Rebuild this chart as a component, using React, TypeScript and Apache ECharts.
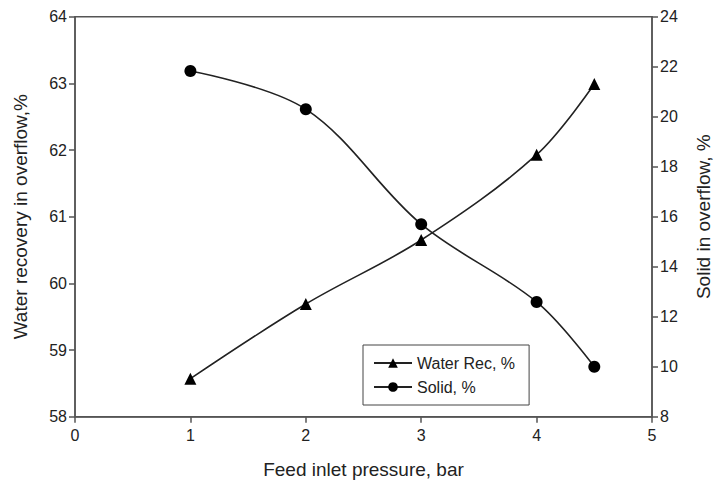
import React, { useEffect, useRef } from "react";
import * as echarts from "echarts";

const pressure = [1, 2, 3, 4, 4.5];
const waterRec = [58.57, 59.69, 60.65, 61.93, 62.99];
const solid = [21.83, 20.3, 15.7, 12.59, 10.0];

const FONT = "Liberation Sans";
const AX = "#555";

export default function App() {
  const ref = useRef<HTMLDivElement>(null);
  useEffect(() => {
    const chart = echarts.init(ref.current!, undefined, { renderer: "svg" });
    const axisCommon = {
      axisLine: { show: true, lineStyle: { color: AX, width: 1.5 } },
      axisTick: { show: true, length: 6, lineStyle: { color: AX, width: 1.5 } },
      splitLine: { show: false },
      axisLabel: { color: "#222", fontFamily: FONT, fontSize: 16 },
      nameTextStyle: { color: "#222", fontFamily: FONT, fontSize: 19 },
    };
    chart.setOption({
      animation: false,
      backgroundColor: "#fff",
      grid: {
        left: 75,
        right: 62,
        top: 16.7,
        bottom: 69.3,
        containLabel: false,
        outerBoundsMode: "none",
        show: true,
        borderColor: AX,
        borderWidth: 1.5,
      },
      legend: {
        left: 363,
        top: 345,
        orient: "vertical",
        width: 167,
        padding: [10, 14, 10, 10],
        itemGap: 8,
        itemWidth: 38,
        itemHeight: 12,
        borderColor: "#444",
        borderWidth: 1,
        textStyle: { color: "#222", fontFamily: FONT, fontSize: 16 },
        data: ["Water Rec, %", "Solid, %"],
      },
      xAxis: {
        type: "value",
        min: 0,
        max: 5,
        interval: 1,
        name: "Feed inlet pressure, bar",
        nameLocation: "middle",
        nameGap: 43,
        ...axisCommon,
        axisLabel: { ...axisCommon.axisLabel, margin: 11 },
      },
      yAxis: [
        {
          type: "value",
          min: 58,
          max: 64,
          interval: 1,
          position: "left",
          name: "Water recovery in overflow,%",
          nameLocation: "middle",
          nameGap: 45,
          ...axisCommon,
        },
        {
          type: "value",
          min: 8,
          max: 24,
          interval: 2,
          position: "right",
          name: "Solid in overflow, %",
          nameLocation: "middle",
          nameGap: 42,
          ...axisCommon,
          nameRotate: 90,
        },
      ],
      series: [
        {
          name: "Water Rec, %",
          type: "line",
          yAxisIndex: 0,
          smooth: 0.35,
          data: pressure.map((p, i) => [p, waterRec[i]]),
          symbol: "triangle",
          symbolSize: 12,
          lineStyle: { color: "#222", width: 1.6 },
          itemStyle: { color: "#000" },
        },
        {
          name: "Solid, %",
          type: "line",
          yAxisIndex: 1,
          smooth: 0.35,
          data: pressure.map((p, i) => [p, solid[i]]),
          symbol: "circle",
          symbolSize: 12,
          lineStyle: { color: "#222", width: 1.6 },
          itemStyle: { color: "#000" },
        },
      ],
    });
    return () => chart.dispose();
  }, []);
  return <div ref={ref} style={{ width: 714, height: 486, position: "absolute", left: 0, top: 0 }} />;
}
